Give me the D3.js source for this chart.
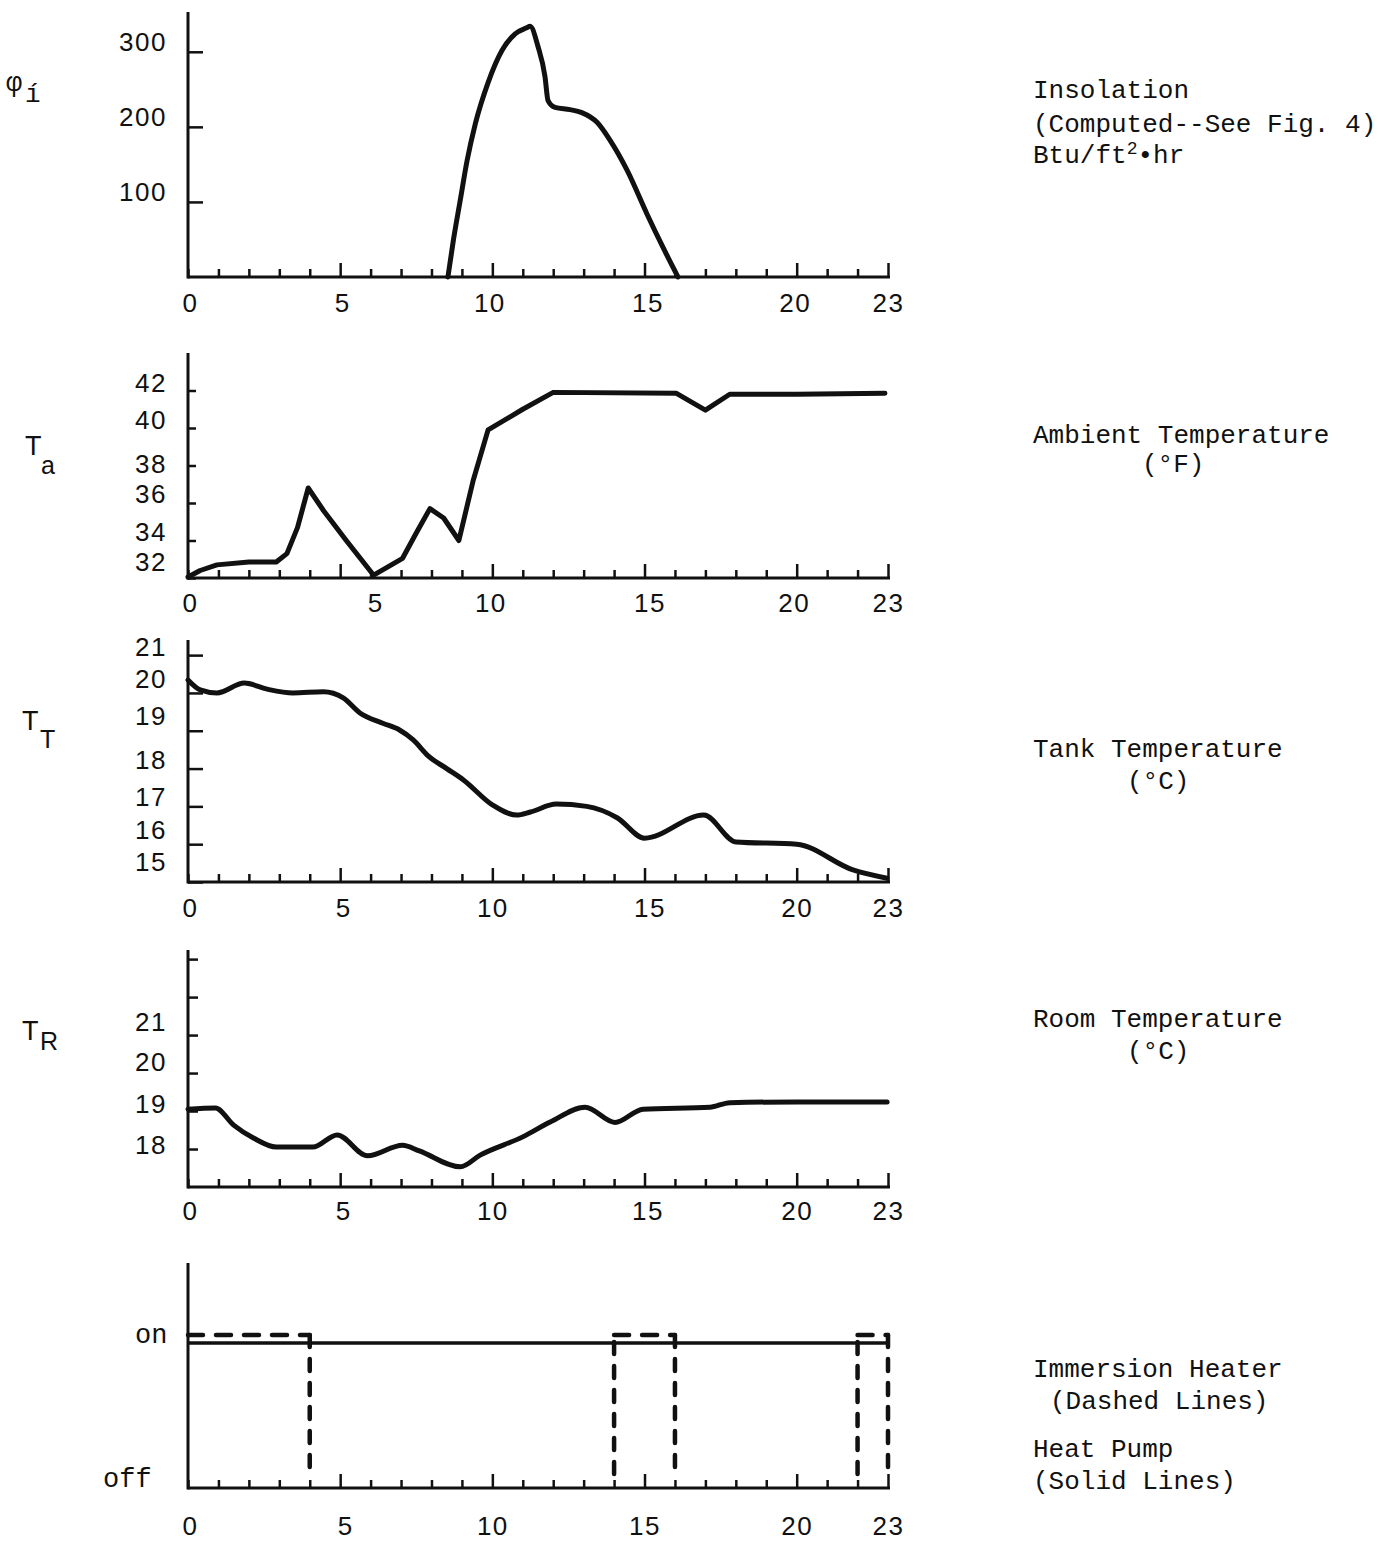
<!DOCTYPE html>
<html>
<head>
<meta charset="utf-8">
<script src="https://cdn.jsdelivr.net/npm/d3@7"></script>
<style>
  body { margin: 0; background: #fff; }
  svg { display: block; }
  text { font-family: "Liberation Mono", "DejaVu Sans Mono", monospace; fill: #111; }
</style>
</head>
<body>
<svg id="chart" width="1398" height="1543"></svg>
<script>
// ---- Hours of the day (shared x axis) ----
const hourTicks = d3.range(0, 24);
const hourLabels = [0, 5, 10, 15, 20, 23];
const majorHours = [5, 10, 15, 20, 23];

// ---- Insolation, Btu/ft2.hr ----
const insolHours  = [8.54, 8.72, 8.94, 9.17, 9.44, 9.86, 10.32, 10.75, 11.13, 11.24, 11.5, 11.73, 11.83, 12.06, 12.55, 12.94, 13.44, 13.87, 14.43, 15.08, 15.6, 16.1];
const insolValues = [0, 49, 101, 155, 204, 259, 302, 324, 332, 334, 307, 267, 235, 226, 223, 219, 206, 182, 142, 84, 40, 0];
const insolTicks  = [100, 200, 300];

// ---- Ambient temperature, deg F ----
const ambientHours  = [0, 0.4, 0.95, 2.0, 2.9, 3.25, 3.6, 3.95, 4.45, 5.2, 6.1, 7.05, 7.5, 7.95, 8.4, 8.9, 9.37, 9.86, 11.0, 12.0, 16.05, 17.0, 17.8, 20.0, 22.9];
const ambientValues = [32.05, 32.4, 32.7, 32.85, 32.85, 33.3, 34.7, 36.8, 35.6, 34.0, 32.15, 33.05, 34.4, 35.7, 35.2, 34.0, 37.2, 39.9, 41.0, 41.9, 41.85, 40.95, 41.8, 41.8, 41.85];
const ambientTicks  = [32, 34, 36, 38, 40, 42];

// ---- Tank temperature, deg C ----
const tankHours  = [0, 0.4, 0.95, 1.85, 2.6, 3.45, 4.45, 5.1, 5.65, 6.4, 6.95, 7.4, 7.9, 8.5, 9.05, 10.0, 10.8, 11.25, 12.1, 13.1, 14.1, 15.0, 16.95, 18.0, 20.0, 21.85, 22.97];
const tankValues = [20.34, 20.08, 20.0, 20.26, 20.1, 20.0, 20.03, 19.87, 19.47, 19.2, 19.02, 18.76, 18.33, 18.0, 17.7, 17.04, 16.77, 16.85, 17.06, 17.0, 16.7, 16.16, 16.77, 16.06, 16.0, 15.32, 15.1];
const tankTicks  = [15, 16, 17, 18, 19, 20, 21];

// ---- Room temperature, deg C ----
const roomHours  = [0, 0.9, 1.5, 2.15, 2.9, 4.1, 4.9, 5.9, 7.05, 7.6, 8.95, 9.6, 11.0, 11.9, 13.05, 14.03, 14.95, 17.15, 17.8, 20.0, 22.97];
const roomValues = [19.05, 19.08, 18.63, 18.29, 18.05, 18.05, 18.37, 17.82, 18.1, 17.95, 17.53, 17.84, 18.32, 18.71, 19.1, 18.7, 19.05, 19.1, 19.22, 19.24, 19.24];
const roomTicks  = [18, 19, 20, 21, 22, 23];
const roomTickLabels = [18, 19, 20, 21];

// ---- On/off schedules ----
const heaterOnStart = [0, 14, 22];
const heaterOnEnd   = [4, 16, 23];
const pumpOnStart   = [0];
const pumpOnEnd     = [23];
const stateLabels   = ["off", "on"];

// ---- Layout ----
const svg = d3.select("#chart");
const x = d3.scaleLinear().domain([0, 23]).range([188, 888]);
const AXIS_W = 3, TICK_W = 2.5, LINE_W = 5;
const MINOR_T = 8, MAJOR_T = 14;
const NUM_FONT = '"Liberation Sans", Arimo, sans-serif';

const panels = [
  { top: 12,  base: 277,  domain: [0, 353],   ticks: insolTicks,   labels: insolTicks,     tickLen: 15,
    labelShift: { 100: -1, 200: -1, 300: -1 }, xLabelY: 35, xLabelShift: { 5: 2, 10: -3, 15: 3, 20: -2 } },
  { top: 353, base: 578,  domain: [32, 44],   ticks: ambientTicks, labels: ambientTicks,   tickLen: 8,
    labelShift: { 32: -8, 34: 0, 36: -1, 38: 7, 40: 0, 42: 1 }, xLabelY: 34, xLabelShift: { 5: 35, 10: -2, 15: 5, 20: -3 } },
  { top: 640, base: 882,  domain: [15, 21.4], ticks: tankTicks,    labels: tankTicks,      tickLen: 15,
    labelShift: { 15: -12, 16: -6, 17: -1, 18: 0, 19: -6, 20: -5, 21: 0 }, xLabelY: 35, xLabelShift: { 5: 3, 15: 5 } },
  { top: 950, base: 1187, domain: [17, 23.24], ticks: roomTicks,   labels: roomTickLabels, tickLen: 10,
    labelShift: { 18: 4, 19: 1, 20: -3, 21: -5 }, xLabelY: 33, xLabelShift: { 5: 3, 15: 3 } },
  { top: 1263, base: 1488, domain: [0, 1.47], ticks: [],           labels: [],             tickLen: 0,
    labelShift: {}, xLabelY: 47, xLabelShift: { 5: 5 } }
];

panels.forEach(p => {
  p.y = d3.scaleLinear().domain(p.domain).range([p.base, p.top]);
});

function drawAxes(p) {
  // x axis: hour ticks pointing up, labels on selected hours
  const gx = svg.append("g").attr("transform", `translate(0,${p.base})`)
    .call(d3.axisBottom(x).tickValues(hourTicks).tickSize(-MINOR_T).tickSizeOuter(0)
      .tickFormat(d => hourLabels.includes(d) ? String(d) : ""));
  gx.select(".domain").attr("stroke", "#111").attr("stroke-width", AXIS_W)
    .attr("d", `M${x(0)},0H${x(23) + 2}`);
  gx.selectAll(".tick line").attr("stroke", "#111").attr("stroke-width", TICK_W)
    .attr("y2", d => majorHours.includes(d) ? -MAJOR_T : -MINOR_T);
  gx.selectAll(".tick text")
    .attr("y", p.xLabelY).attr("dy", 0)
    .attr("dx", d => (p.xLabelShift[d] || 0) + (d === 0 ? 2 : 0))
    .style("font-family", NUM_FONT).style("letter-spacing", "1.5px")
    .style("font-size", "26px").attr("fill", "#111");

  // y axis: ticks pointing right, labels on the left
  const gy = svg.append("g").attr("transform", `translate(${x(0)},0)`)
    .call(d3.axisLeft(p.y).tickValues(p.ticks).tickSize(-p.tickLen).tickSizeOuter(0).tickPadding(21)
      .tickFormat(d => p.labels.includes(d) ? String(d) : ""));
  gy.select(".domain").attr("stroke", "#111").attr("stroke-width", AXIS_W)
    .attr("d", `M0,${p.top}V${p.base + 1.5}`);
  gy.selectAll(".tick line").attr("stroke", "#111").attr("stroke-width", TICK_W);
  gy.selectAll(".tick text")
    .attr("dy", d => p.labelShift[d] || 0)
    .style("font-family", NUM_FONT).style("letter-spacing", "1.5px")
    .style("font-size", "26px").attr("fill", "#111");
}
panels.forEach(drawAxes);

function drawSeries(p, hours, values, curve) {
  const pts = hours.map((h, i) => [h, values[i]]);
  const line = d3.line().x(d => x(d[0])).y(d => p.y(d[1])).curve(curve);
  svg.append("path").datum(pts).attr("d", line)
    .attr("fill", "none").attr("stroke", "#111").attr("stroke-width", LINE_W)
    .attr("stroke-linejoin", "round").attr("stroke-linecap", "round");
}
drawSeries(panels[0], insolHours, insolValues, d3.curveMonotoneX);
drawSeries(panels[1], ambientHours, ambientValues, d3.curveLinear);
drawSeries(panels[2], tankHours, tankValues, d3.curveMonotoneX);
drawSeries(panels[3], roomHours, roomValues, d3.curveMonotoneX);

// ---- On/off panel ----
const ps = panels[4];
const PUMP_OFFSET = 8;   // keeps the solid line just below the dashed "on" level
pumpOnStart.forEach((s, i) => {
  svg.append("path")
    .attr("d", d3.line()([[x(s), ps.y(1) + PUMP_OFFSET], [x(pumpOnEnd[i]), ps.y(1) + PUMP_OFFSET]]))
    .attr("fill", "none").attr("stroke", "#111").attr("stroke-width", 3.5);
});
heaterOnStart.forEach((s, i) => {
  const e = heaterOnEnd[i];
  const pts = s === 0
    ? [[s, 1], [e, 1], [e, 0]]
    : [[s, 0], [s, 1], [e, 1], [e, 0]];
  const line = d3.line().x(d => x(d[0])).y(d => d[1] === 0 ? ps.y(0) - 14 : ps.y(d[1]));
  // each leg is its own path so the dash pattern restarts at every corner
  for (let k = 0; k < pts.length - 1; k++) {
    const vertical = pts[k][0] === pts[k + 1][0];
    svg.append("path").attr("d", line([pts[k], pts[k + 1]]))
      .attr("fill", "none").attr("stroke", "#111").attr("stroke-width", 4.5)
      .attr("stroke-linecap", "round")
      .attr("stroke-dasharray", vertical ? "12,12" : "15,13");
  }
});
svg.append("text").attr("x", 135).attr("y", ps.y(1) + PUMP_OFFSET)
  .style("font-size", "27px").text(stateLabels[1]);
svg.append("text").attr("x", 103).attr("y", ps.y(0) - 1)
  .style("font-size", "27px").text(stateLabels[0]);

// ---- Variable symbols on the left ----
const sym = svg.append("g");
sym.append("text").attr("x", 6).attr("y", 91).style("font-size", "27px").text("φ");
sym.append("text").attr("x", 25).attr("y", 102).style("font-size", "26px").text("í");

function tSymbol(xT, yT, sub, xS, yS) {
  sym.append("text").attr("x", xT).attr("y", yT)
    .style("font-family", NUM_FONT).style("font-size", "27px").text("T");
  sym.append("text").attr("x", xS).attr("y", yS)
    .style("font-family", NUM_FONT).style("font-size", "25px").text(sub);
}
tSymbol(25, 455, "a", 41, 474);
tSymbol(22, 730, "T", 40, 748);
tSymbol(22, 1040, "R", 40, 1050);

// ---- Descriptions on the right ----
const desc = svg.append("g").style("font-size", "26px");
function line(txt, xx, yy) { return desc.append("text").attr("x", xx).attr("y", yy).text(txt); }
line("Insolation", 1033, 98);
line("(Computed--See Fig. 4)", 1033, 132);
const btu = desc.append("text").attr("x", 1033).attr("y", 163);
btu.append("tspan").text("Btu/ft");
btu.append("tspan").attr("dy", -9).style("font-size", "18px").text("2");
btu.append("tspan").attr("dy", 9).text("•hr");

line("Ambient Temperature", 1033, 443);
line("(°F)", 1142, 472);
line("Tank Temperature", 1033, 757);
line("(°C)", 1127, 789);
line("Room Temperature", 1033, 1027);
line("(°C)", 1127, 1059);
line("Immersion Heater", 1033, 1377);
line("(Dashed Lines)", 1050, 1409);
line("Heat Pump", 1033, 1457);
line("(Solid Lines)", 1033, 1489);
</script>
</body>
</html>
